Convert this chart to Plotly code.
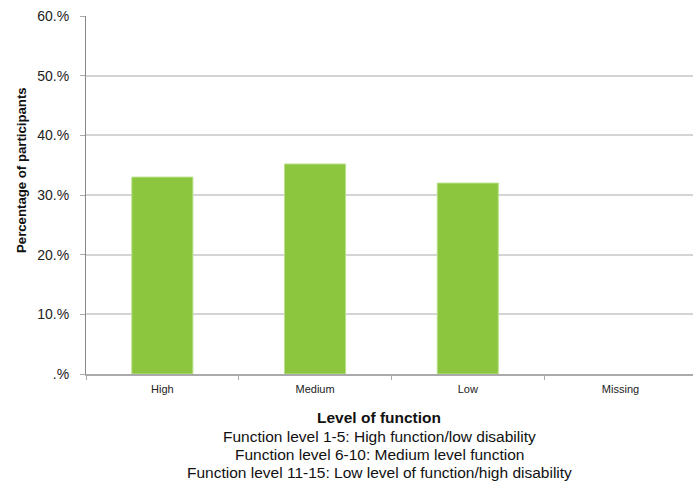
import plotly.graph_objects as go

categories = ["High", "Medium", "Low", "Missing"]
values = [33.0, 35.2, 32.0, 0]
y_tickvals = [0, 10, 20, 30, 40, 50, 60]
y_ticktext = [".%", "10.%", "20.%", "30.%", "40.%", "50.%", "60.%"]
x_title = "Level of function"
x_subtitle = ["Function level 1-5: High function/low disability",
              "Function level 6-10: Medium level function",
              "Function level 11-15: Low level of function/high disability"]
y_title = "Percentage of participants"

font = "Liberation Sans, Arial, sans-serif"
W, H = 693, 487
ML, MR, MT, MB = 86, 0, 16, 113

fig = go.Figure()
fig.add_trace(go.Bar(
    x=categories, y=values, width=0.4,
    marker=dict(color="#8cc63f", line=dict(color="#b9e08a", width=[1, 1, 1, 0])),
))

fig.update_layout(
    width=W, height=H,
    margin=dict(l=ML, r=MR, t=MT, b=MB, autoexpand=False),
    paper_bgcolor="white", plot_bgcolor="white",
    showlegend=False,
    font=dict(family=font, color="#222"),
)
fig.update_xaxes(
    range=[-0.5, 3.475], automargin=False,
    showline=True, linecolor="#aaaaaa", linewidth=2,
    ticks="outside", tickson="boundaries", ticklen=4, tickcolor="#aaaaaa",
    tickfont=dict(size=11, color="#222"), ticklabelstandoff=4,
    showgrid=False,
)
fig.update_yaxes(
    range=[0, 60], automargin=False,
    tickvals=y_tickvals, ticktext=y_ticktext,
    showline=True, linecolor="#888888", linewidth=1,
    ticks="outside", ticklen=5, tickcolor="#aaaaaa",
    tickfont=dict(size=14, color="#222"), ticklabelstandoff=8,
    showgrid=True, gridcolor="#d4d4d4", gridwidth=2,
    zeroline=False,
)

plot_h = H - MT - MB
plot_w = W - ML - MR
def ypix(p):
    return (H - MB - p) / plot_h
def xpix(p):
    return (p - ML) / plot_w

fig.add_annotation(text="<b>" + y_title + "</b>", x=xpix(21), xref="paper", y=ypix(170), yref="paper",
                   textangle=-90, showarrow=False, font=dict(size=13.2, color="#111"),
                   xanchor="center", yanchor="middle")
fig.add_annotation(text="<b>" + x_title + "</b>", x=xpix(379), xref="paper", y=ypix(417), yref="paper",
                   showarrow=False, font=dict(size=15.5, color="#111"), xanchor="center", yanchor="middle")
for i, line in enumerate(x_subtitle):
    fig.add_annotation(text=line, x=xpix(379), xref="paper", y=ypix(436.5 + i * 18), yref="paper",
                       showarrow=False, font=dict(size=15.5, color="#111"), xanchor="center", yanchor="middle")

fig.write_html("out.html", config={"displayModeBar": False},
               post_script="document.body.style.margin='0';document.body.style.overflow='hidden';")
